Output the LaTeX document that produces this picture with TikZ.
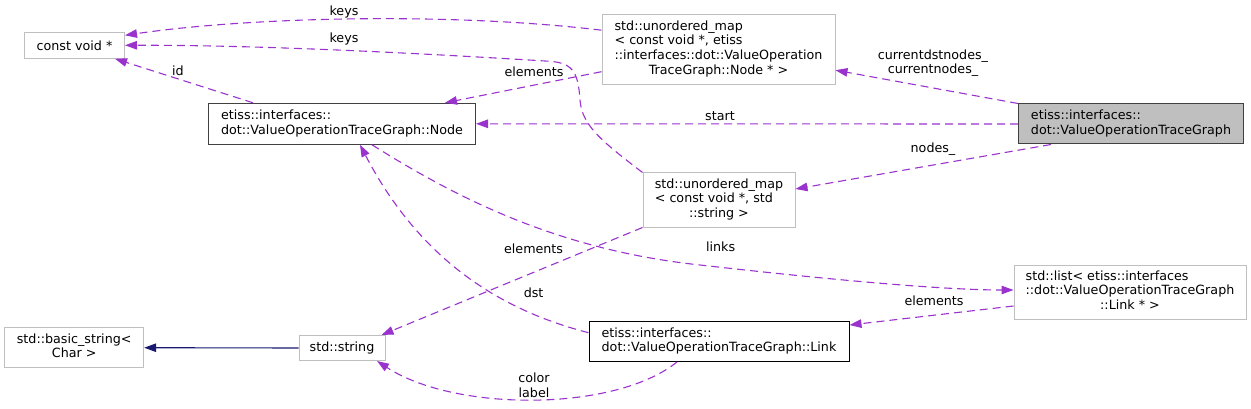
\documentclass[tikz,border=0pt]{standalone}
\usepackage{fontspec}
\setmainfont{DejaVu Sans}
\usetikzlibrary{arrows.meta,calc}
\definecolor{edgepurple}{HTML}{9A32CD}
\definecolor{edgenavy}{HTML}{191970}
\definecolor{lightborder}{HTML}{BFBFBF}
\definecolor{mainfill}{HTML}{BFBFBF}
\definecolor{darkborder}{HTML}{404040}
\newcommand{\lbox}[2]{\begin{tabular}{@{}l@{}}#1\\\multicolumn{1}{@{}c@{}}{#2}\end{tabular}}
\newcommand{\lboxx}[3]{\begin{tabular}{@{}l@{}}#1\\#2\\\multicolumn{1}{@{}c@{}}{#3}\end{tabular}}
\newcommand{\lboxxx}[4]{\begin{tabular}{@{}l@{}}#1\\#2\\#3\\\multicolumn{1}{@{}c@{}}{#4}\end{tabular}}
\begin{document}
\begin{tikzpicture}[x=1pt,y=-1pt,
  every node/.style={font=\fontsize{12.7}{14.6}\selectfont, inner sep=0pt, text=black},
  cls/.style={draw, line width=1pt, rectangle},
  extcls/.style={cls, draw=lightborder},
  doccls/.style={cls, draw=darkborder},
  maincls/.style={cls, draw=darkborder, fill=mainfill},
  usage/.style={draw=edgepurple, line width=1.1pt, dash pattern=on 8pt off 5pt,
    -{Triangle[length=12pt,width=8.5pt]}},
  inherit/.style={draw=edgenavy, line width=1.1pt, -{Triangle[length=12pt,width=8.5pt]}},
  elabel/.style={align=center}
]
\useasboundingbox (0,0) rectangle (1251,409);

% nodes
\node[extcls, minimum width=100, minimum height=26] (cv) at (74.5,45.3) {const void *};
\node[doccls, minimum width=267, minimum height=41] (node) at (342,123.8)
  {\lbox{etiss::interfaces::}{dot::ValueOperationTraceGraph::Node}};
\node[extcls, minimum width=233, minimum height=70] (umapnode) at (718.5,49.2)
  {\lboxxx{std::unordered\_map}{< const void *, etiss}{::interfaces::dot::ValueOperation}{TraceGraph::Node * >}};
\node[maincls, minimum width=225, minimum height=40] (graph) at (1131,124)
  {\lbox{etiss::interfaces::}{dot::ValueOperationTraceGraph}};
\node[extcls, minimum width=152, minimum height=54] (umapstr) at (719,200)
  {\lboxx{std::unordered\_map}{< const void *, std}{::string >}};
\node[extcls, minimum width=232, minimum height=54] (list) at (1130,292)
  {\lboxx{std::list< etiss::interfaces}{::dot::ValueOperationTraceGraph}{::Link * >}};
\node[cls, draw=black, minimum width=260, minimum height=40] (link) at (719,341.5)
  {\lbox{etiss::interfaces::}{dot::ValueOperationTraceGraph::Link}};
\node[extcls, minimum width=86, minimum height=25] (str) at (342,348)
  {std::string};
\node[extcls, minimum width=139, minimum height=40] (bstr) at (74.2,347.7)
  {\lbox{std::basic\_string<}{Char >}};

% edges
\draw[usage] ($(umapnode.west)+(0,-19)$) .. controls (450,12) and (250,17) .. ($(cv.east)+(0,-10)$);
\draw[usage] (umapstr.north west) .. controls (600,140) and (582,125) .. (580,100)
   .. controls (578,70) and (572,62) .. (545,61)
   .. controls (400,52) and (250,45) .. (cv.east);
\draw[usage] ($(node.north)+(-89,0)$) -- ($(cv.south)+(40.5,0)$);
\draw[usage] ($(umapnode.west)+(0,22.5)$) -- ($(node.north)+(103,0)$);
\draw[usage] (graph.north west) -- ($(umapnode.east)+(0,21)$);
\draw[usage] (graph.west) -- (node.east);
\draw[usage] ($(graph.south)+(-80,0)$) -- ($(umapstr.east)+(0,-11)$);
\draw[usage] ($(node.south)+(30,0)$) .. controls (460,200) and (560,250) .. (700,265)
   .. controls (850,282) and (950,290) .. ($(list.west)+(0,-2)$);
\draw[usage] ($(list.west)+(0,14)$) -- ($(link.east)+(0,-16.5)$);
\draw[usage] (umapstr.south west) -- ($(str.north east)+(-4,0)$);
\draw[usage] ($(link.west)+(0,-8.8)$) .. controls (500,310) and (420,260) .. ($(node.south)+(18,0)$);
\draw[usage] ($(link.south)+(-42,0)$) .. controls (615,412) and (455,412) .. ($(str.south)+(35,0)$);
\draw[inherit] (str.west) -- (bstr.east);

% labels
\node[elabel] (lkeysa) at (344,12) {keys};
\node[elabel] (lkeysb) at (344,39.3) {keys};
\node[elabel] (lid) at (178,70.7) {id};
\node[elabel] (lelema) at (534,71.7) {elements};
\node[elabel] (lcur) at (933,63.3) {currentdstnodes\_\\currentnodes\_};
\node[elabel] (lstart) at (720,115.7) {start};
\node[elabel] (lnodes) at (933,149) {nodes\_};
\node[elabel] (llinks) at (720.6,246.7) {links};
\node[elabel] (lelemb) at (934,300.7) {elements};
\node[elabel] (lelemc) at (533.6,249) {elements};
\node[elabel] (ldst) at (533.6,292.7) {dst};
\node[elabel] (lcol) at (534,385) {color\\label};
\end{tikzpicture}
\end{document}
